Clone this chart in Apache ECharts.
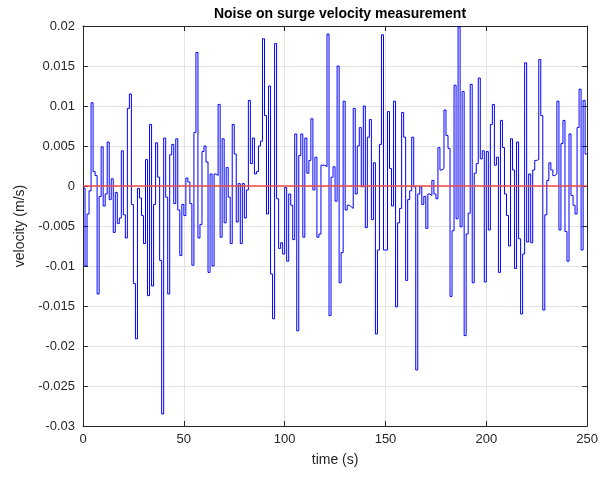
<!DOCTYPE html>
<html>
<head>
<meta charset="utf-8">
<script src="https://cdn.jsdelivr.net/npm/echarts@6/dist/echarts.min.js"></script>
<style>
  html, body { margin: 0; padding: 0; background: #fff; }
  #chart { width: 601px; height: 480px; }
</style>
</head>
<body>
<div id="chart"></div>
<script>
// Surge velocity noise samples (m/s), one per second from t = 0 s
const noise = [
  -0.00025, -0.0100, -0.0035, -0.0006, 0.0104, 0.0018, 0.0013, -0.0135, -0.0013, 0.0049,
  -0.0025, -0.0010, 0.0055, -0.0017, 0.0009, -0.0058, -0.0008, -0.0047, -0.0040, 0.0044,
  -0.0036, -0.0065, 0.0097, 0.0115, -0.0023, -0.0122, -0.0191, -0.0003, -0.0015, -0.0037,
  -0.0072, 0.0033, -0.0137, 0.0077, -0.0125, -0.0023, 0.0054, 0.0011, -0.0093, -0.0285,
  0.0060, -0.0014, -0.0135, 0.0039, 0.0052, -0.0022, 0.0059, -0.0030, -0.0087, -0.0023,
  -0.0037, 0.0010, 0.0005, -0.0022, -0.0099, 0.0067, 0.0167, -0.0065, -0.0048, 0.0043,
  0.0050, 0.0030, -0.0108, 0.0015, -0.0100, 0.0015, 0.0013, 0.0102, -0.0064, 0.0059,
  -0.0046, 0.0023, -0.0014, -0.0072, 0.0077, 0.0040, -0.0045, 0.0003, -0.0072, 0.0003,
  -0.0040, -0.0005, 0.0107, 0.0028, 0.0060, 0.0015, 0.0018, 0.0050, 0.0056, 0.0184,
  0.0088, -0.0035, 0.0125, -0.0110, -0.0166, 0.0178, -0.0016, -0.0078, -0.0071, -0.0085,
  -0.0002, -0.0094, -0.0010, -0.0024, -0.0067, 0.0065, -0.0181, 0.0038, 0.0065, -0.0064,
  0.0060, 0.0016, 0.0032, 0.0084, -0.0005, 0.0036, -0.0064, -0.0060, 0.0026, 0.0026,
  0.0024, 0.0190, -0.0162, 0.0011, 0.0024, -0.0019, 0.0150, -0.0121, -0.0083, 0.0106,
  -0.0030, -0.0024, -0.0026, -0.0028, 0.0097, -0.0010, 0.0050, 0.0073, -0.0001, 0.0100,
  -0.0052, 0.0061, 0.0083, -0.0042, 0.0029, -0.0185, -0.0080, 0.0052, 0.0189, -0.0080,
  -0.0080, 0.0093, 0.0022, -0.0025, 0.0106, -0.0151, -0.0046, -0.0028, 0.0092, 0.0061,
  -0.0118, -0.0017, -0.0006, 0.0061, -0.0001, -0.0230, -0.0010, -0.0001, -0.0023, -0.0013,
  -0.0053, -0.0010, -0.0012, 0.0007, -0.0010, -0.0016, 0.0048, 0.0020, 0.0022, 0.0095,
  0.0063, 0.0047, -0.0138, -0.0056, 0.0126, -0.0041, 0.0199, -0.0051, 0.0118, -0.0187,
  -0.0060, -0.0034, 0.0127, -0.0121, 0.0016, 0.0028, 0.0135, 0.0034, 0.0044, -0.0120,
  0.0043, -0.0055, 0.0077, 0.0102, 0.0026, 0.0036, -0.0108, 0.0082, 0.0048, -0.0010,
  -0.0037, -0.0075, 0.0059, 0.0020, -0.0103, 0.0055, -0.0066, -0.0160, -0.0085, 0.0154,
  -0.0070, 0.0015, -0.0071, 0.0020, 0.0032, 0.0033, 0.0158, 0.0088, -0.0155, -0.0036,
  0.0007, 0.0029, 0.0020, 0.0013, 0.0015, 0.0106, -0.0055, 0.0053, 0.0082, -0.0057,
  -0.0094, 0.0065, -0.0012, -0.0024, -0.0035, 0.0073, 0.0121, -0.0080, 0.0107, 0.0040
];
const sampleTime = 1;          // s between samples
const reference = 0;           // zero-noise reference level
const xTicks = [0, 250, 50];   // min, max, step (s)
const yTicks = [-0.03, 0.02, 0.005]; // min, max, step (m/s)

// Stair points: each sample holds until the next one, the last one until the end
const stairs = noise.map((v, i) => [i * sampleTime, v]);
stairs.push([noise.length * sampleTime, noise[noise.length - 1]]);

const chart = echarts.init(document.getElementById('chart'));
const fontFamily = '"Liberation Sans", Arial, Helvetica, sans-serif';
const axisCol = '#262626';
const fmtY = v => String(parseFloat(v.toFixed(4)));

const boxAxis = (extra) => Object.assign({
  type: 'value',
  axisLine: { show: true, onZero: false, lineStyle: { color: axisCol, width: 1 } },
  axisTick: { show: true, inside: true, length: 5, lineStyle: { color: axisCol } },
  splitLine: { show: false },
  axisLabel: { show: false }
}, extra);

chart.setOption({
  animation: false,
  backgroundColor: '#ffffff',
  title: {
    text: 'Noise on surge velocity measurement',
    left: 335, top: 2, textAlign: 'center',
    textStyle: { fontFamily, fontSize: 14, fontWeight: 'bold', color: '#000' }
  },
  grid: { left: 83, right: 13, top: 26, bottom: 54 },
  xAxis: [
    {
      type: 'value', min: xTicks[0], max: xTicks[1], interval: xTicks[2],
      name: 'time (s)', nameLocation: 'middle', nameGap: 27,
      nameTextStyle: { fontFamily, fontSize: 14, color: axisCol },
      axisLine: { show: true, onZero: false, lineStyle: { color: axisCol, width: 1 } },
      axisTick: { show: true, inside: true, length: 5, lineStyle: { color: axisCol } },
      axisLabel: { fontFamily, fontSize: 13, color: axisCol, margin: 7 },
      splitLine: { show: true, lineStyle: { color: '#e3e3e3', width: 1 } }
    },
    boxAxis({ position: 'top', min: xTicks[0], max: xTicks[1], interval: xTicks[2] })
  ],
  yAxis: [
    {
      type: 'value', min: yTicks[0], max: yTicks[1], interval: yTicks[2],
      name: 'velocity (m/s)', nameLocation: 'middle', nameGap: 55,
      nameTextStyle: { fontFamily, fontSize: 14, color: axisCol },
      axisLine: { show: true, onZero: false, lineStyle: { color: axisCol, width: 1 } },
      axisTick: { show: true, inside: true, length: 5, lineStyle: { color: axisCol } },
      axisLabel: { fontFamily, fontSize: 13, color: axisCol, margin: 8, formatter: fmtY },
      splitLine: { show: true, lineStyle: { color: '#e3e3e3', width: 1 } }
    },
    boxAxis({ position: 'right', min: yTicks[0], max: yTicks[1], interval: yTicks[2] })
  ],
  series: [
    {
      name: 'noise', type: 'line', step: 'end', data: stairs,
      showSymbol: false, symbol: 'none',
      lineStyle: { color: '#0000ff', width: 1 },
      z: 3
    },
    {
      name: 'reference', type: 'line',
      data: [[xTicks[0], reference], [xTicks[1], reference]],
      showSymbol: false, symbol: 'none',
      lineStyle: { color: '#f04848', width: 1.5 },
      z: 4
    }
  ]
});
</script>
</body>
</html>
